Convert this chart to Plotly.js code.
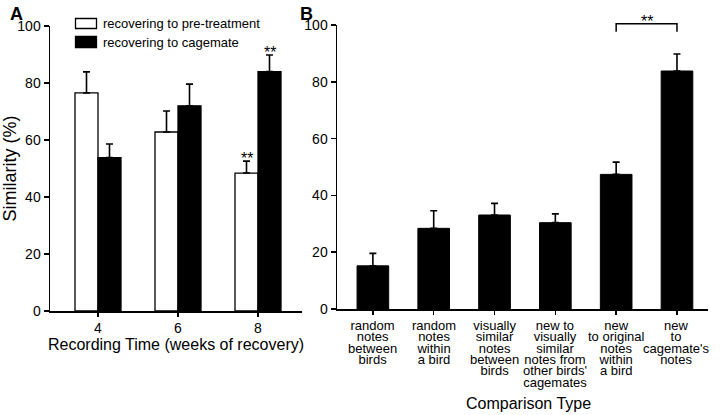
<!DOCTYPE html>
<html>
<head>
<meta charset="utf-8">
<script src="https://cdn.plot.ly/plotly-3.0.1.min.js"></script>
<style>html,body{margin:0;padding:0;background:#fff;}#chart{width:720px;height:415px;}</style>
</head>
<body>
<div id="chart"></div>
<script>
// ---- Panel A data ----
const weeks = [4, 6, 8];
const pretreatMean = [76.5, 62.8, 48.4];
const pretreatErr = [7.4, 7.4, 4.2];
const cagemateMean = [53.8, 72.0, 84.0];
const cagemateErr = [4.8, 7.6, 5.8];
const seriesNames = ['recovering to pre-treatment', 'recovering to cagemate'];

// ---- Panel B data ----
const compTypes = [
  'random<br>notes<br>between<br>birds',
  'random<br>notes<br>within<br>a bird',
  'visually<br>similar<br>notes<br>between<br>birds',
  'new to<br>visually<br>similar<br>notes from<br>other birds\'<br>cagemates',
  'new<br>to original<br>notes<br>within<br>a bird',
  'new<br>to<br>cagemate\'s<br>notes'
];
const compMean = [15.2, 28.4, 33.1, 30.4, 47.4, 83.8];
const compErr = [4.4, 6.2, 4.1, 3.1, 4.3, 6.0];

const FONT = 'Liberation Sans, Arial, Helvetica, sans-serif';
const zeros = a => a.map(() => 0);
const W = 0.575;
const H = 415, WD = 720;
const px = v => v / WD;          // x pixel -> paper
const py = v => 1 - v / H;       // y pixel -> paper

const traces = [
  {
    type: 'bar', name: seriesNames[0], x: weeks, y: pretreatMean,
    offset: -W, width: W, showlegend: false,
    marker: {color: '#ffffff', line: {color: '#000', width: 1.3}},
    error_y: {type: 'data', symmetric: false, array: pretreatErr, arrayminus: zeros(pretreatErr), color: '#000', thickness: 1.6, width: 3.5},
    xaxis: 'x', yaxis: 'y'
  },
  {
    type: 'bar', name: seriesNames[1], x: weeks, y: cagemateMean,
    offset: 0, width: W, showlegend: false,
    marker: {color: '#000000', line: {color: '#000', width: 1.3}},
    error_y: {type: 'data', symmetric: false, array: cagemateErr, arrayminus: zeros(cagemateErr), color: '#000', thickness: 1.6, width: 3.5},
    xaxis: 'x', yaxis: 'y'
  },
  {
    type: 'bar', name: 'B', x: compTypes, y: compMean, width: 0.52,
    showlegend: false,
    marker: {color: '#000000', line: {color: '#000', width: 1}},
    error_y: {type: 'data', symmetric: false, array: compErr, arrayminus: zeros(compErr), color: '#000', thickness: 1.6, width: 3.5},
    xaxis: 'x2', yaxis: 'y2'
  }
];

const txt = (size) => ({family: FONT, size: size, color: '#000'});
const annotations = [
  {xref: 'paper', yref: 'paper', x: px(16), y: py(14), xanchor: 'center', yanchor: 'middle', text: '<b>A</b>', showarrow: false, font: txt(18)},
  {xref: 'paper', yref: 'paper', x: px(306), y: py(14), xanchor: 'center', yanchor: 'middle', text: '<b>B</b>', showarrow: false, font: txt(18)},
  {xref: 'x', yref: 'y', x: weeks[2] - W/2, y: pretreatMean[2] + pretreatErr[2], yanchor: 'bottom', yshift: -8, text: '**', showarrow: false, font: txt(16)},
  {xref: 'x', yref: 'y', x: weeks[2] + W/2, y: cagemateMean[2] + cagemateErr[2], yanchor: 'bottom', yshift: -8, text: '**', showarrow: false, font: txt(16)},
  {xref: 'x2', yref: 'paper', x: 4.5, y: py(21), yanchor: 'middle', text: '**', showarrow: false, font: txt(16)},
  {xref: 'paper', yref: 'paper', x: px(528), y: py(403), xanchor: 'center', yanchor: 'middle', text: 'Comparison Type', showarrow: false, font: txt(16)},
  // legend text
  {xref: 'paper', yref: 'paper', x: px(101), y: py(23), xanchor: 'left', yanchor: 'middle', text: seriesNames[0], showarrow: false, font: txt(13)},
  {xref: 'paper', yref: 'paper', x: px(101), y: py(42), xanchor: 'left', yanchor: 'middle', text: seriesNames[1], showarrow: false, font: txt(13)}
];
// category labels for panel B (multi-line, tightened after render)
const catStart = annotations.length;
compTypes.forEach((c) => {
  annotations.push({xref: 'x2', yref: 'paper', x: c, y: py(316), xanchor: 'center', yanchor: 'top',
    align: 'center', text: c, showarrow: false, font: txt(13)});
});
const catEnd = annotations.length;

const shapes = [
  // significance bracket in panel B
  {type: 'path', xref: 'x2', yref: 'paper',
   path: 'M 4,' + py(31.7) + ' L 4,' + py(23.7) + ' L 5,' + py(23.7) + ' L 5,' + py(31.7),
   line: {color: '#000', width: 1.5}},
  // legend keys
  {type: 'rect', xref: 'paper', yref: 'paper', x0: px(75.5), x1: px(96.5), y0: py(28.5), y1: py(18.5),
   fillcolor: '#fff', line: {color: '#000', width: 1.3}},
  {type: 'rect', xref: 'paper', yref: 'paper', x0: px(75.5), x1: px(96.5), y0: py(47.5), y1: py(36.5),
   fillcolor: '#000', line: {color: '#000', width: 1.3}}
];

const axisCommon = {
  showgrid: false, zeroline: false, showline: true, linecolor: '#000', linewidth: 1.5,
  ticks: 'outside', tickcolor: '#000', tickwidth: 1.5,
  tickfont: txt(14)
};

const layout = {
  width: WD, height: H,
  margin: {l: 0, r: 0, t: 0, b: 0},
  paper_bgcolor: '#fff', plot_bgcolor: '#fff',
  font: {family: FONT, color: '#000'},
  barmode: 'overlay',
  showlegend: false,
  xaxis: Object.assign({}, axisCommon, {
    domain: [px(50), px(302)], range: [2.8, 9.1], tickvals: weeks, ticktext: weeks.map(String), ticklen: 4,
    anchor: 'y',
    title: {text: 'Recording Time (weeks of recovery)', font: txt(16), standoff: 2}
  }),
  yaxis: Object.assign({}, axisCommon, {
    domain: [(H-311)/H, (H-26)/H], range: [0, 100], dtick: 20, ticklen: 5, anchor: 'x',
    title: {text: 'Similarity (%)', font: txt(18), standoff: 6}
  }),
  xaxis2: Object.assign({}, axisCommon, {
    domain: [px(337), px(708)], type: 'category', range: [-0.59, 5.51], ticklen: 4, showticklabels: false, anchor: 'y2'
  }),
  yaxis2: Object.assign({}, axisCommon, {
    domain: [(H-309)/H, (H-25)/H], range: [0, 100], dtick: 20, ticklen: 5, anchor: 'x2'
  }),
  annotations: annotations,
  shapes: shapes
};

Plotly.newPlot('chart', traces, layout, {displayModeBar: false, staticPlot: true}).then(gd => {
  // tighten the line spacing of the multi-line category labels (reference uses ~0.87em)
  const factor = 0.87 / 1.3;
  gd.querySelectorAll('g.annotation').forEach(g => {
    const idx = parseInt(g.getAttribute('data-index'), 10);
    if (idx >= catStart && idx < catEnd) {
      g.querySelectorAll('tspan.line').forEach(t => {
        const dy = t.getAttribute('dy');
        if (dy && dy.indexOf('em') > 0) {
          t.setAttribute('dy', (parseFloat(dy) * factor) + 'em');
        }
      });
    }
  });
});
</script>
</body>
</html>
